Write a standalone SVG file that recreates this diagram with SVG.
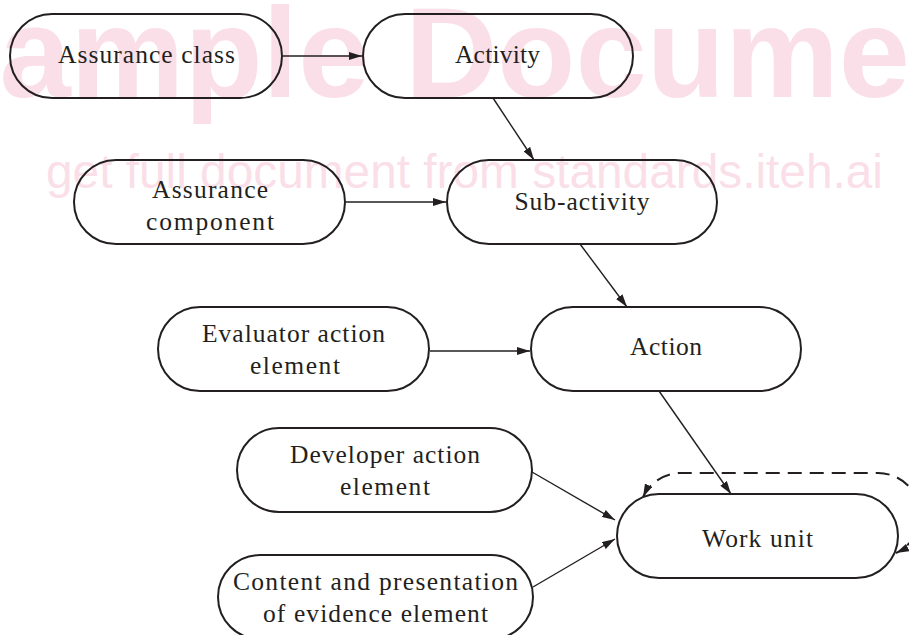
<svg xmlns="http://www.w3.org/2000/svg" width="909" height="635" viewBox="0 0 909 635">
  <style>
    .wm { font-family: "Liberation Sans", Arial, sans-serif; fill: #fadfe8; }
    .node rect { fill: none; stroke: #231f20; stroke-width: 2; }
    .node text { font-family: "Liberation Serif", "Times New Roman", serif; font-size: 25.5px; fill: #231f20; text-anchor: middle; }
    .edge { fill: none; stroke: #231f20; stroke-width: 1.4; marker-end: url(#arrow); }
    .loop { fill: none; stroke: #231f20; stroke-width: 2; stroke-dasharray: 14 8; marker-start: url(#arrow); marker-end: url(#arrow); }
  </style>
  <defs>
    <marker id="arrow" viewBox="0 0 13 8" refX="13" refY="4" markerWidth="13" markerHeight="8" markerUnits="userSpaceOnUse" orient="auto-start-reverse">
      <path d="M0,0 L13,4 L0,8 Z" fill="#231f20"/>
    </marker>
  </defs>
  <rect width="909" height="635" fill="#ffffff"/>

  <!-- background watermark -->
  <g id="watermark">
    <text class="wm" x="-86" y="97" font-size="128" font-weight="bold">Sample Document</text>
    <text class="wm" x="46" y="188" font-size="48" textLength="837" lengthAdjust="spacingAndGlyphs">get full document from standards.iteh.ai</text>
  </g>

  <!-- connectors -->
  <g id="connectors">
    <line class="edge" x1="283" y1="56" x2="362" y2="56"/>
    <line class="edge" x1="493" y1="98" x2="534" y2="160"/>
    <line class="edge" x1="346" y1="202" x2="446" y2="202"/>
    <line class="edge" x1="580" y1="244" x2="627" y2="307"/>
    <line class="edge" x1="430" y1="351" x2="530" y2="351"/>
    <line class="edge" x1="659" y1="391" x2="731" y2="494"/>
    <line class="edge" x1="532" y1="472" x2="615" y2="520"/>
    <line class="edge" x1="533" y1="587" x2="615" y2="539"/>
    <path class="loop" d="M 643,497 A 42 42 0 0 1 681,473 L 878,473 A 42 42 0 0 1 896,553"/>
  </g>

  <g id="assurance-class" class="node">
    <rect x="10" y="14" width="272" height="84" rx="42"/>
    <text x="146.5" y="63" textLength="177">Assurance class</text>
  </g>
  <g id="activity" class="node">
    <rect x="363" y="14" width="270" height="84" rx="42"/>
    <text x="497.5" y="63" textLength="85">Activity</text>
  </g>
  <g id="assurance-component" class="node">
    <rect x="74" y="160" width="271" height="84" rx="42"/>
    <text x="210" y="198" textLength="116">Assurance</text>
    <text x="210" y="230" textLength="128">component</text>
  </g>
  <g id="sub-activity" class="node">
    <rect x="447" y="160" width="270" height="84" rx="42"/>
    <text x="582" y="210" textLength="135">Sub-activity</text>
  </g>
  <g id="evaluator-action-element" class="node">
    <rect x="158" y="307" width="271" height="84" rx="42"/>
    <text x="293.5" y="342" textLength="183">Evaluator action</text>
    <text x="295" y="374" textLength="90">element</text>
  </g>
  <g id="action" class="node">
    <rect x="531" y="307" width="270" height="84" rx="42"/>
    <text x="666" y="355" textLength="72">Action</text>
  </g>
  <g id="developer-action-element" class="node">
    <rect x="237" y="428" width="295" height="84" rx="42"/>
    <text x="385" y="463" textLength="190">Developer action</text>
    <text x="385" y="495" textLength="90">element</text>
  </g>
  <g id="content-presentation-evidence-element" class="node">
    <rect x="218" y="555" width="315" height="84" rx="42"/>
    <text x="375.5" y="590" textLength="285">Content and presentation</text>
    <text x="375.5" y="622" textLength="225">of evidence element</text>
  </g>
  <g id="work-unit" class="node">
    <rect x="617" y="494" width="281" height="84" rx="42"/>
    <text x="757.5" y="547" textLength="111">Work unit</text>
  </g>
</svg>
